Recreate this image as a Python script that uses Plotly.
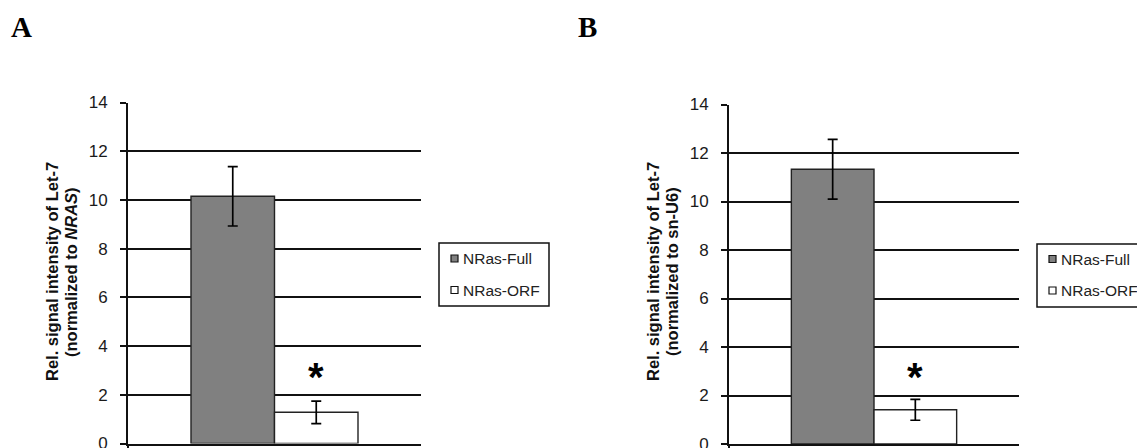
import plotly.graph_objects as go

# ---------------- data ----------------
categories = ["Let-7"]
series_names = ["NRas-Full", "NRas-ORF"]
panel_labels = ["A", "B"]

full_A = [10.15]
full_A_err = [1.22]
orf_A = [1.28]
orf_A_err = [0.46]

full_B = [11.33]
full_B_err = [1.23]
orf_B = [1.41]
orf_B_err = [0.43]

star_y = [3.0, 3.05]
y_ticks = [0, 2, 4, 6, 8, 10, 12, 14]
title_line1 = ["Rel. signal intensity of Let-7", "Rel. signal intensity of Let-7"]
title_line2 = ["(normalized to <i>NRAS</i>)", "(normalized to sn-U6)"]

# ---------------- style / layout ----------------
W, H = 1137, 448
GRAY = "#808080"
EDGE = "#222222"
LINE = "#111111"
BARGAP = 0.43

# pixel geometry of each panel: (plot left, plot right, y0 px, y14 px)
panels = [
    dict(xl=128, xr=421, yb=443.5, yt=102.5, ax="x", ay="y"),
    dict(xl=729, xr=1019, yb=444.0, yt=104.5, ax="x2", ay="y2"),
]

fig = go.Figure()

data = [
    (full_A, full_A_err, orf_A, orf_A_err),
    (full_B, full_B_err, orf_B, orf_B_err),
]

for p, (fv, fe, ov, oe) in zip(panels, data):
    fig.add_trace(go.Bar(
        x=categories, y=fv, name=series_names[0], xaxis=p["ax"], yaxis=p["ay"],
        marker=dict(color=GRAY, line=dict(color=EDGE, width=1.4)),
        error_y=dict(type="data", array=fe, color="black", thickness=1.7, width=5),
        showlegend=False,
    ))
    fig.add_trace(go.Bar(
        x=categories, y=ov, name=series_names[1], xaxis=p["ax"], yaxis=p["ay"],
        marker=dict(color="white", line=dict(color=EDGE, width=1.4)),
        error_y=dict(type="data", array=oe, color="black", thickness=1.7, width=5),
        showlegend=False,
    ))

yaxis_style = dict(
    range=[0, 14], tickvals=y_ticks, ticks="outside", ticklen=6, tickwidth=1.8,
    tickcolor=LINE, showline=True, linecolor=LINE, linewidth=1.8,
    showgrid=True, gridcolor=LINE, gridwidth=1.8, zeroline=False,
    tickfont=dict(family="Liberation Sans, Arial", size=17, color="#1a1a1a"),
    ticklabelstandoff=9, ticklabeloverflow="allow", automargin=False,
    fixedrange=True,
)
xaxis_style = dict(
    type="category", range=[-0.5, 0.5], showticklabels=False, ticks="outside",
    tickson="boundaries", ticklen=6, tickwidth=1.8, tickcolor=LINE,
    showline=True, linecolor=LINE, linewidth=1.8, showgrid=False, zeroline=False,
    automargin=False,
)

layout = dict(
    width=W, height=H, margin=dict(l=0, r=0, t=0, b=0, autoexpand=False),
    paper_bgcolor="white", plot_bgcolor="white",
    barmode="group", bargap=BARGAP, bargroupgap=0,
    font=dict(family="Liberation Sans, Arial", color="#222"),
)
for i, p in enumerate(panels):
    sx = "" if i == 0 else str(i + 1)
    layout["xaxis" + sx] = dict(xaxis_style, domain=[p["xl"] / W, p["xr"] / W],
                                anchor="y" + sx)
    layout["yaxis" + sx] = dict(yaxis_style, domain=[1 - p["yb"] / H, 1 - p["yt"] / H],
                                anchor="x" + sx)
fig.update_layout(**layout)

annotations = []
shapes = []
for i, p in enumerate(panels):
    plot_w = p["xr"] - p["xl"]
    # star above the ORF bar (centre of the second bar of the group)
    annotations.append(dict(
        x=categories[0], y=star_y[i], xref=p["ax"], yref=p["ay"],
        xshift=plot_w * (1 - BARGAP) / 4, yshift=-7,
        text="<b>*</b>", showarrow=False, font=dict(family="Liberation Sans", size=40, color="black"),
        xanchor="center", yanchor="middle",
    ))
    # y-axis title (two lines)
    for line, xc in ((title_line1[i], p["xl"] - 76), (title_line2[i], p["xl"] - 57)):
        annotations.append(dict(
            x=xc / W, y=1 - 272 / H, xref="paper", yref="paper",
            text="<b>" + line + "</b>", textangle=-90, showarrow=False,
            font=dict(family="Liberation Sans, Arial", size=16.5, color="#111"),
            xanchor="center", yanchor="middle",
        ))
    # panel letter
    annotations.append(dict(
        x=(9 if i == 0 else 576) / W,
        y=1 - 27 / H, xref="paper", yref="paper", text="<b>" + panel_labels[i] + "</b>",
        showarrow=False, xanchor="left", yanchor="middle",
        font=dict(family="Liberation Serif, Times New Roman", size=29, color="black"),
    ))
    # legend box (drawn manually to match the original layout)
    lx0 = p["xr"] + 18
    ly0, ly1 = 243 + i, 305 + i + 1
    shapes.append(dict(type="rect", xref="paper", yref="paper",
                       x0=lx0 / W, x1=(lx0 + 110) / W, y0=1 - ly1 / H, y1=1 - ly0 / H,
                       line=dict(color=LINE, width=1.5), fillcolor="white", layer="above"))
    for k, (nm, col) in enumerate(zip(series_names, [GRAY, "white"])):
        cy = 258.5 + i * 0.5 + 31.5 * k
        cx = lx0 + 15.5
        shapes.append(dict(type="rect", xref="paper", yref="paper",
                           x0=(cx - 3.5) / W, x1=(cx + 3.5) / W,
                           y0=1 - (cy + 3.5) / H, y1=1 - (cy - 3.5) / H,
                           line=dict(color=LINE, width=1.2), fillcolor=col, layer="above"))
        annotations.append(dict(
            x=(lx0 + 22) / W, y=1 - cy / H, xref="paper", yref="paper", text=nm,
            showarrow=False, xanchor="left", yanchor="middle",
            font=dict(family="Liberation Sans, Arial", size=15.5, color="#222"),
        ))

fig.update_layout(annotations=annotations, shapes=shapes)
fig.write_html("out.html")
